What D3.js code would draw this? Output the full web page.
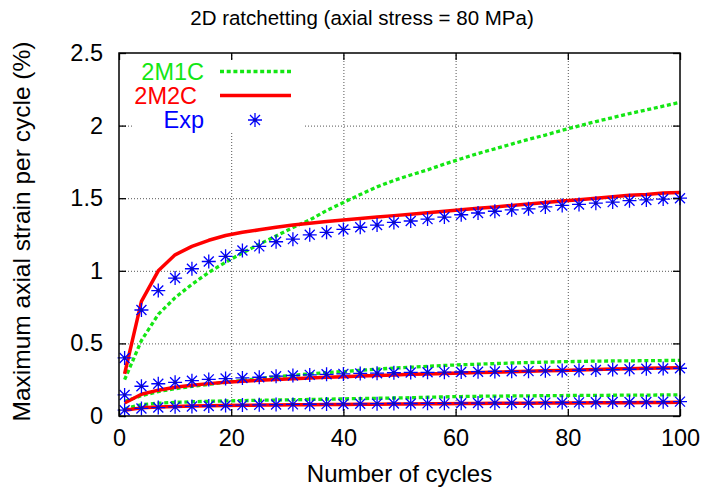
<!DOCTYPE html>
<html>
<head>
<meta charset="utf-8">
<script src="https://cdn.jsdelivr.net/npm/d3@7"></script>
<style>
  body { margin: 0; background: #fff; }
  svg { display: block; font-family: "Liberation Sans", Arial, sans-serif; }
</style>
</head>
<body>
<svg id="chart" width="706" height="489"></svg>
<script>
// cycles 1, 4, 7 ... 100
const cycles = d3.range(1, 101, 3);

// top set
const m1cTop = [0.25, 0.52, 0.70, 0.815, 0.907, 0.989, 1.059, 1.123, 1.183, 1.24, 1.298, 1.35, 1.415, 1.47, 1.525, 1.578, 1.622, 1.66, 1.695, 1.735, 1.772, 1.808, 1.84, 1.873, 1.905, 1.935, 1.968, 1.998, 2.028, 2.055, 2.083, 2.108, 2.134, 2.16];
const m2cTop = [0.29, 0.79, 1.00, 1.11, 1.168, 1.21, 1.243, 1.265, 1.282, 1.30, 1.315, 1.328, 1.34, 1.35, 1.36, 1.37, 1.38, 1.39, 1.40, 1.41, 1.42, 1.43, 1.44, 1.45, 1.46, 1.47, 1.48, 1.49, 1.50, 1.51, 1.52, 1.525, 1.535, 1.54];
const expTop = [0.40, 0.73, 0.864, 0.95, 1.014, 1.064, 1.10, 1.14, 1.168, 1.20, 1.218, 1.248, 1.265, 1.285, 1.30, 1.315, 1.333, 1.343, 1.356, 1.37, 1.386, 1.398, 1.41, 1.42, 1.427, 1.44, 1.45, 1.457, 1.466, 1.473, 1.483, 1.488, 1.494, 1.50];

// middle set
const m1cMid = [0.10, 0.14, 0.168, 0.188, 0.204, 0.218, 0.232, 0.246, 0.258, 0.27, 0.28, 0.29, 0.299, 0.306, 0.315, 0.323, 0.33, 0.336, 0.342, 0.348, 0.353, 0.357, 0.361, 0.365, 0.368, 0.371, 0.374, 0.376, 0.378, 0.379, 0.38, 0.381, 0.382, 0.383];
const m2cMid = [0.09, 0.15, 0.178, 0.198, 0.212, 0.223, 0.232, 0.24, 0.246, 0.252, 0.257, 0.262, 0.267, 0.271, 0.275, 0.279, 0.283, 0.287, 0.29, 0.293, 0.296, 0.299, 0.302, 0.305, 0.308, 0.311, 0.314, 0.317, 0.32, 0.323, 0.326, 0.328, 0.331, 0.333];
const expMid = [0.145, 0.205, 0.222, 0.232, 0.243, 0.252, 0.258, 0.262, 0.267, 0.274, 0.279, 0.283, 0.287, 0.29, 0.293, 0.295, 0.298, 0.30, 0.301, 0.302, 0.303, 0.305, 0.307, 0.308, 0.309, 0.311, 0.313, 0.315, 0.317, 0.32, 0.322, 0.325, 0.327, 0.329];

// bottom set
const m1cLow = [0.05, 0.078, 0.088, 0.094, 0.098, 0.101, 0.104, 0.106, 0.108, 0.11, 0.112, 0.114, 0.116, 0.118, 0.12, 0.122, 0.124, 0.126, 0.129, 0.132, 0.134, 0.136, 0.137, 0.138, 0.139, 0.14, 0.141, 0.142, 0.142, 0.143, 0.144, 0.144, 0.145, 0.145];
const m2cLow = [0.04, 0.056, 0.062, 0.066, 0.069, 0.071, 0.073, 0.074, 0.075, 0.076, 0.077, 0.078, 0.079, 0.08, 0.0805, 0.081, 0.082, 0.083, 0.084, 0.085, 0.086, 0.086, 0.087, 0.088, 0.088, 0.089, 0.09, 0.09, 0.091, 0.092, 0.092, 0.093, 0.093, 0.094];
const expLow = [0.04, 0.052, 0.058, 0.063, 0.066, 0.069, 0.072, 0.075, 0.077, 0.079, 0.08, 0.081, 0.082, 0.083, 0.084, 0.085, 0.086, 0.086, 0.087, 0.087, 0.088, 0.089, 0.09, 0.09, 0.091, 0.092, 0.093, 0.094, 0.095, 0.096, 0.097, 0.097, 0.098, 0.099];

const xTicks = [0, 20, 40, 60, 80, 100];
const yTicks = [0, 0.5, 1, 1.5, 2, 2.5];
const legendNames = ["2M1C", "2M2C", "Exp"];

const green = "#14e614", red = "#ff0000", blue = "#0000ff";

const pLeft = 119, pRight = 680, pTop = 53, pBottom = 416;
const x = d3.scaleLinear().domain([0, 100]).range([pLeft, pRight]);
const y = d3.scaleLinear().domain([0, 2.5]).range([pBottom, pTop]);

const svg = d3.select("#chart");

// grid
const grid = svg.append("g");
grid.append("g")
  .attr("transform", `translate(0,${pBottom})`)
  .call(d3.axisBottom(x).tickValues(xTicks.slice(1, -1)).tickSize(-(pBottom - pTop)).tickFormat(""));
grid.append("g")
  .attr("transform", `translate(${pLeft},0)`)
  .call(d3.axisLeft(y).tickValues(yTicks.slice(1, -1)).tickSize(-(pRight - pLeft)).tickFormat(""));
grid.selectAll(".domain").remove();
grid.selectAll("line")
  .attr("stroke", "#555")
  .attr("stroke-width", 1)
  .attr("stroke-dasharray", "1,2");

// opaque key box
svg.append("rect")
  .attr("x", 133).attr("y", 60)
  .attr("width", 170).attr("height", 73)
  .attr("fill", "#fff");

const line = d3.line()
  .x((d, i) => x(cycles[i]))
  .y(d => y(d));

const curves = svg.append("g").attr("fill", "none");
[m1cTop, m1cMid, m1cLow].forEach(s => {
  curves.append("path").attr("d", line(s))
    .attr("stroke", green).attr("stroke-width", 3.3)
    .attr("stroke-dasharray", "4,2.7");
});
[m2cTop, m2cMid, m2cLow].forEach(s => {
  curves.append("path").attr("d", line(s))
    .attr("stroke", red).attr("stroke-width", 3.5)
    .attr("stroke-linejoin", "round");
});

function star(g, cx, cy) {
  const r = 7, d = 5;
  g.append("path")
    .attr("d", `M${cx - r},${cy}H${cx + r}M${cx},${cy - r}V${cy + r}` +
      `M${cx - d},${cy - d}L${cx + d},${cy + d}M${cx - d},${cy + d}L${cx + d},${cy - d}`)
    .attr("stroke", blue).attr("stroke-width", 1.3).attr("fill", "none");
  g.append("circle").attr("cx", cx).attr("cy", cy).attr("r", 1.6).attr("fill", "#1010b0");
}

const marks = svg.append("g");
[expTop, expMid, expLow].forEach(s => {
  s.forEach((v, i) => star(marks, x(cycles[i]), y(v)));
});

// border
svg.append("rect")
  .attr("x", pLeft).attr("y", pTop)
  .attr("width", pRight - pLeft).attr("height", pBottom - pTop)
  .attr("fill", "none").attr("stroke", "#000").attr("stroke-width", 1.5);

// axes with inward ticks on all sides
const fs = 23.5;
const xAx = svg.append("g")
  .attr("transform", `translate(0,${pBottom})`)
  .call(d3.axisBottom(x).tickValues(xTicks).tickSize(-7).tickPadding(13.5));
const xTopAx = svg.append("g")
  .attr("transform", `translate(0,${pTop})`)
  .call(d3.axisTop(x).tickValues(xTicks).tickSize(-7).tickFormat(""));
const yAx = svg.append("g")
  .attr("transform", `translate(${pLeft},0)`)
  .call(d3.axisLeft(y).tickValues(yTicks).tickSize(-7).tickPadding(16).tickFormat(d3.format("")));
const yRightAx = svg.append("g")
  .attr("transform", `translate(${pRight},0)`)
  .call(d3.axisRight(y).tickValues(yTicks).tickSize(-7).tickFormat(""));
[xAx, xTopAx, yAx, yRightAx].forEach(a => {
  a.select(".domain").remove();
  a.selectAll("line").attr("stroke", "#000").attr("stroke-width", 1.3);
  a.selectAll("text")
    .attr("fill", "#000")
    .style("font-family", "'Liberation Sans', Arial, sans-serif")
    .style("font-size", fs + "px");
});

// titles
svg.append("text")
  .attr("x", 362).attr("y", 25)
  .attr("text-anchor", "middle")
  .style("font-size", "20.5px")
  .text("2D ratchetting (axial stress = 80 MPa)");

svg.append("text")
  .attr("x", (pLeft + pRight) / 2).attr("y", 482)
  .attr("text-anchor", "middle")
  .style("font-size", "24px")
  .text("Number of cycles");

svg.append("text")
  .attr("transform", `translate(30,${(pTop + pBottom) / 2 - 3}) rotate(-90)`)
  .attr("text-anchor", "middle")
  .style("font-size", "24.5px")
  .text("Maximum axial strain per cycle (%)");

// legend
const key = svg.append("g").style("font-size", fs + "px").attr("text-anchor", "end");
const keyColors = [green, red, blue];
const keyEnds = [204, 197, 204];
const keyRows = [71.5, 95.5, 120];
legendNames.forEach((n, i) => {
  key.append("text")
    .attr("x", keyEnds[i]).attr("y", keyRows[i] + 8)
    .attr("fill", keyColors[i])
    .text(n);
});
key.append("line")
  .attr("x1", 220).attr("x2", 291).attr("y1", keyRows[0]).attr("y2", keyRows[0])
  .attr("stroke", green).attr("stroke-width", 3.3).attr("stroke-dasharray", "4,2.7");
key.append("line")
  .attr("x1", 220).attr("x2", 291).attr("y1", keyRows[1]).attr("y2", keyRows[1])
  .attr("stroke", red).attr("stroke-width", 3.5);
star(key, 255, keyRows[2]);
</script>
</body>
</html>
